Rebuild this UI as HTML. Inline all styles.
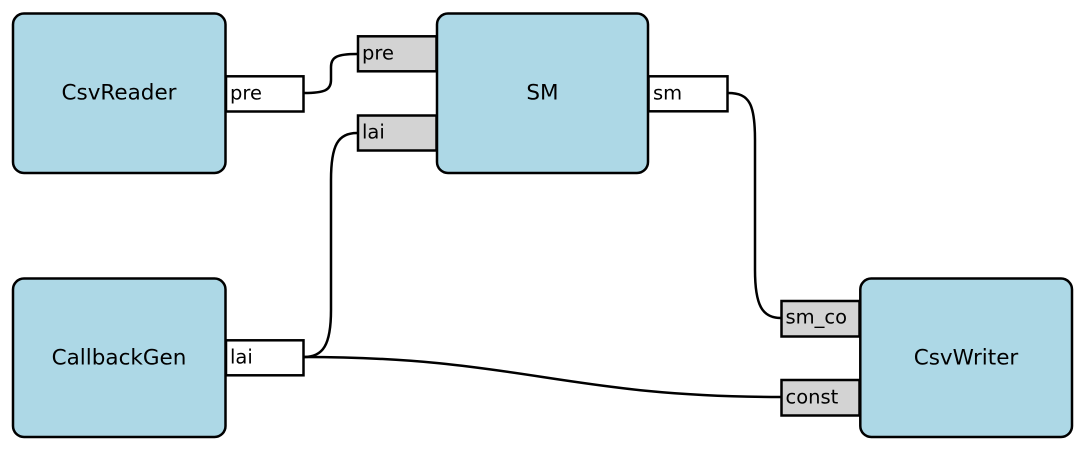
<!DOCTYPE html>
<html>
<head>
<meta charset="utf-8">
<style>
  html, body { margin: 0; padding: 0; background: #ffffff; }
  svg { display: block; }
  .node { fill: #add8e6; stroke: #000; stroke-width: 2.5; }
  .pout { fill: #ffffff; stroke: #000; stroke-width: 2.5; }
  .pin { fill: #d3d3d3; stroke: #000; stroke-width: 2.5; }
  .edge { fill: none; stroke: #000; stroke-width: 2.5; }
  .nl { font-family: "DejaVu Sans", "Liberation Sans", sans-serif; font-size: 21.5px; fill: #000; text-anchor: middle; }
  .pl { font-family: "DejaVu Sans", "Liberation Sans", sans-serif; font-size: 19.5px; fill: #000; }
</style>
</head>
<body>
<svg width="1085" height="451" viewBox="0 0 1085 451" xmlns="http://www.w3.org/2000/svg">
  <rect x="0" y="0" width="1085" height="451" fill="#ffffff"/>

  <!-- edges -->
  <path class="edge" d="M304,93 C325,93 331,90 331,80 L331,67 C331,57 337,54 357,54"/>
  <path class="edge" d="M304,357 C323,357 331,345 331,310 L331,180 C331,145 338,133 357,133"/>
  <path class="edge" d="M728,93 C750,93 755,105 755,140 L755,270 C755,305 762,318 781,318"/>
  <path class="edge" d="M304,357 C520,357 565,397 781,397"/>

  <!-- nodes -->
  <rect class="node" x="13" y="13.5" width="212.5" height="159.5" rx="11" ry="11"/>
  <rect class="node" x="437" y="13.5" width="211" height="159.5" rx="11" ry="11"/>
  <rect class="node" x="13" y="278.5" width="212.5" height="158.5" rx="11" ry="11"/>
  <rect class="node" x="860.3" y="278.5" width="211.7" height="158.5" rx="11" ry="11"/>

  <text class="nl" x="119" y="99.5">CsvReader</text>
  <text class="nl" x="542.5" y="99.5">SM</text>
  <text class="nl" x="119" y="364.5">CallbackGen</text>
  <text class="nl" x="966" y="364.5">CsvWriter</text>

  <!-- ports -->
  <rect class="pout" x="226" y="76.3" width="77.5" height="35.2"/>
  <text class="pl" x="230" y="99.5">pre</text>

  <rect class="pin" x="358" y="36.3" width="78.5" height="35"/>
  <text class="pl" x="362" y="59.5">pre</text>
  <rect class="pin" x="358" y="115.5" width="78.5" height="35"/>
  <text class="pl" x="362" y="138.5">lai</text>

  <rect class="pout" x="648.5" y="76.3" width="79" height="35"/>
  <text class="pl" x="653" y="99.5">sm</text>

  <rect class="pout" x="226" y="340.3" width="77.5" height="35"/>
  <text class="pl" x="230" y="363.5">lai</text>

  <rect class="pin" x="781.5" y="301" width="78" height="35.5"/>
  <text class="pl" x="785.5" y="323.5">sm_co</text>
  <rect class="pin" x="781.5" y="380" width="78" height="35.5"/>
  <text class="pl" x="785.5" y="403.3">const</text>
</svg>
</body>
</html>
